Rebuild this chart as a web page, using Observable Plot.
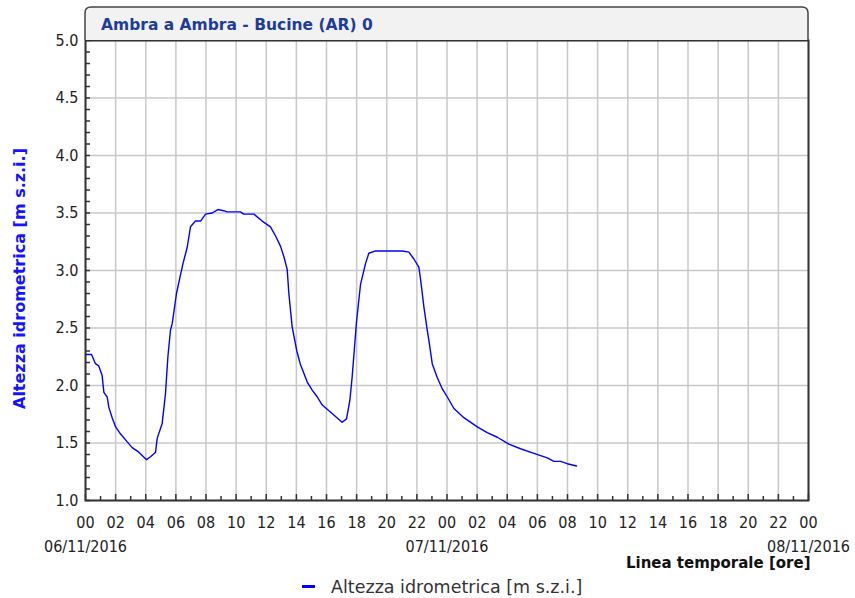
<!DOCTYPE html>
<html>
<head>
<meta charset="utf-8">
<script src="https://cdn.jsdelivr.net/npm/d3@7"></script>
<script src="https://cdn.jsdelivr.net/npm/@observablehq/plot@0.6"></script>
<style>
  html, body { margin: 0; padding: 0; background: #ffffff; }
</style>
</head>
<body>
<div id="chart"></div>
<script>
// ---- data (hours since 06/11/2016 00:00, level in m s.z.i.) ----
const hours = [0, 0.4, 0.66, 0.88, 1.1, 1.22, 1.44, 1.55, 1.77, 2.0, 2.32, 2.77, 3.1, 3.54, 4.05, 4.32, 4.65, 4.76, 5.09, 5.31,
  5.47, 5.64, 5.76, 6.04, 6.27, 6.49, 6.75, 6.97, 7.3, 7.64, 7.97, 8.41, 8.79, 9.18, 9.4, 10.29, 10.5, 11.18, 11.73, 12.28,
  12.62, 12.95, 13.17, 13.39, 13.5, 13.72, 14.03, 14.25, 14.72, 15.05, 15.39, 15.72, 16.16, 16.6, 17.04, 17.33, 17.55, 17.7, 17.99, 18.26,
  18.59, 18.81, 19.26, 20.03, 20.58, 21.03, 21.47, 21.8, 22.13, 22.24, 22.47, 22.69, 22.8, 23.02, 23.35, 23.69, 24.02, 24.46, 25.12, 26.01,
  26.67, 27.34, 28.11, 28.88, 29.77, 30.66, 31.1, 31.54, 31.98, 32.6];
const levels = [2.27, 2.27, 2.19, 2.17, 2.09, 1.94, 1.90, 1.81, 1.72, 1.64, 1.58, 1.51, 1.46, 1.42, 1.355, 1.38, 1.42, 1.54, 1.67, 1.93,
  2.25, 2.48, 2.54, 2.80, 2.94, 3.07, 3.20, 3.38, 3.43, 3.43, 3.49, 3.50, 3.53, 3.52, 3.51, 3.51, 3.49, 3.49, 3.43, 3.38,
  3.30, 3.21, 3.12, 3.01, 2.80, 2.51, 2.30, 2.19, 2.03, 1.96, 1.90, 1.83, 1.78, 1.73, 1.68, 1.71, 1.87, 2.07, 2.55, 2.88,
  3.06, 3.15, 3.17, 3.17, 3.17, 3.17, 3.16, 3.10, 3.03, 2.93, 2.68, 2.48, 2.39, 2.19, 2.07, 1.97, 1.90, 1.80, 1.72, 1.64,
  1.59, 1.55, 1.49, 1.45, 1.41, 1.37, 1.34, 1.34, 1.32, 1.30];

const xMajorTicks = [0, 2, 4, 6, 8, 10, 12, 14, 16, 18, 20, 22, 24, 26, 28, 30, 32, 34, 36, 38, 40, 42, 44, 46, 48];
const xMinorTicks = [1, 3, 5, 7, 9, 11, 13, 15, 17, 19, 21, 23, 25, 27, 29, 31, 33, 35, 37, 39, 41, 43, 45, 47];
const xTickLabels = ["00", "02", "04", "06", "08", "10", "12", "14", "16", "18", "20", "22",
  "00", "02", "04", "06", "08", "10", "12", "14", "16", "18", "20", "22", "00"];
const dateHours = [0, 24, 48];
const dateLabels = ["06/11/2016", "07/11/2016", "08/11/2016"];
const yMajorTicks = [1.0, 1.5, 2.0, 2.5, 3.0, 3.5, 4.0, 4.5, 5.0];
const yMinorTicks = [1.0, 1.1, 1.2, 1.3, 1.4, 1.5, 1.6, 1.7, 1.8, 1.9, 2.0, 2.1, 2.2, 2.3, 2.4, 2.5, 2.6, 2.7, 2.8, 2.9,
  3.0, 3.1, 3.2, 3.3, 3.4, 3.5, 3.6, 3.7, 3.8, 3.9, 4.0, 4.1, 4.2, 4.3, 4.4, 4.5, 4.6, 4.7, 4.8, 4.9, 5.0];
const xDomain = [0, 48];
const yDomain = [1, 5];

const chartTitle = "Ambra a Ambra - Bucine (AR) 0";
const yTitle = "Altezza idrometrica [m s.z.i.]";
const xTitle = "Linea temporale [ore]";
const seriesName = "Altezza idrometrica [m s.z.i.]";

// ---- layout ----
const W = 855, H = 598;
const mL = 85, mR = 47, mT = 40, mB = 98;
const innerW = W - mL - mR, innerH = H - mT - mB;
const tickFont = "'DejaVu Sans Condensed', 'Liberation Sans', sans-serif";
const textFont = "'DejaVu Sans', sans-serif";

const data = hours.map((h, i) => ({h, v: levels[i]}));
const dates = dateHours.map((h, i) => ({h, label: dateLabels[i]}));

const plot = Plot.plot({
  width: W, height: H,
  marginLeft: mL, marginRight: mR, marginTop: mT, marginBottom: mB,
  x: {domain: xDomain},
  y: {domain: yDomain},
  style: {background: "#ffffff", fontFamily: tickFont},
  marks: [
    Plot.ruleX(xMajorTicks, {stroke: "#c8c8c8", strokeWidth: 1.5}),
    Plot.ruleY(yMajorTicks, {stroke: "#c8c8c8", strokeWidth: 1.5}),
    Plot.line(data, {x: "h", y: "v", stroke: "#0000ff", strokeWidth: 1.4}),
    // inward tick marks on the bottom axis
    Plot.ruleX(xMajorTicks, {x: d => d, y1: yDomain[1], y2: yDomain[0], insetTop: innerH - 6, stroke: "#333", strokeWidth: 1.5}),
    Plot.ruleX(xMinorTicks, {x: d => d, y1: yDomain[1], y2: yDomain[0], insetTop: innerH - 4, stroke: "#333", strokeWidth: 1.5}),
    // inward tick marks on the left axis
    Plot.ruleY(yMinorTicks, {y: d => d, x1: xDomain[0], x2: xDomain[1], insetRight: innerW - 5, stroke: "#333", strokeWidth: 1.5}),
    Plot.frame({stroke: "#333", strokeWidth: 2}),
    Plot.axisX({ticks: xMajorTicks, tickSize: 0, tickPadding: 16, label: null,
      tickFormat: d => xTickLabels[xMajorTicks.indexOf(d)], fontSize: 16, fill: "#222", fontFamily: tickFont}),
    Plot.axisY({ticks: yMajorTicks, tickSize: 0, tickPadding: 7, label: null,
      tickFormat: d => d.toFixed(1), fontSize: 16, fill: "#222", fontFamily: tickFont}),
    Plot.text(dates, {x: "h", text: "label", frameAnchor: "bottom", lineAnchor: "middle", textAnchor: "middle",
      dy: 46, fontSize: 16, fill: "#222", fontFamily: tickFont}),
    Plot.text([xTitle], {frameAnchor: "bottom-right", textAnchor: "end", lineAnchor: "middle", dx: 2, dy: 63,
      fontSize: 15, fontWeight: "bold", fill: "#111", fontFamily: textFont}),
    Plot.text([yTitle], {frameAnchor: "left", textAnchor: "middle", lineAnchor: "middle", rotate: -90, dx: -66, dy: 8,
      fontSize: 16, fontWeight: "bold", fill: "#1414ff", fontFamily: textFont})
  ]
});

const svg = d3.select(plot);
// title box with rounded top corners
const x0 = mL, x1 = W - mR, yTop = 7, yBot = mT, r = 6;
svg.append("path")
  .attr("d", `M${x0},${yBot} V${yTop + r} Q${x0},${yTop} ${x0 + r},${yTop} H${x1 - r} Q${x1},${yTop} ${x1},${yTop + r} V${yBot}`)
  .attr("fill", "#f2f2f2").attr("stroke", "#444").attr("stroke-width", 1.5);
svg.append("text")
  .attr("x", 101).attr("y", 30).attr("text-anchor", "start")
  .attr("font-family", textFont).attr("font-size", 15.5).attr("font-weight", "bold")
  .attr("fill", "#1e3c9a").text(chartTitle);

// legend
const lg = svg.append("g");
lg.append("line").attr("x1", 302).attr("x2", 315).attr("y1", 586.5).attr("y2", 586.5)
  .attr("stroke", "#0000ff").attr("stroke-width", 3);
lg.append("text").attr("x", 331).attr("y", 592.5).attr("text-anchor", "start")
  .attr("font-family", textFont).attr("font-size", 17.5).attr("fill", "#333").text(seriesName);

document.getElementById("chart").appendChild(plot);
</script>
</body>
</html>
